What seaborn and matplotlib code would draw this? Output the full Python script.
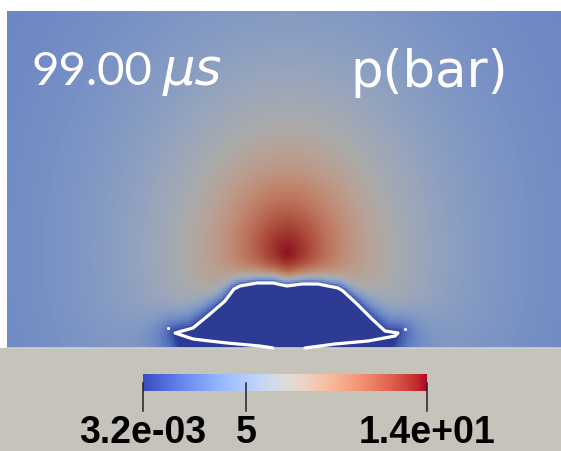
import numpy as np
import matplotlib
matplotlib.use("Agg")
import matplotlib.pyplot as plt
import seaborn as sns
from matplotlib.path import Path
from matplotlib.colors import ListedColormap
from matplotlib.patches import Rectangle

# ---------------- data ----------------
time_value = "99.00"
time_unit = "μs"
field_name = "p(bar)"

p_min = 0.0032          # lowest pressure (inside the bubble)
p_max = 13.8            # peak pressure
p_far = 2.2             # far-field pressure
peak_x = 287.0          # location of pressure peak (domain units)
peak_y = 257.0
peak_r0 = 80.0          # decay radius of the pressure pulse
peak_exp = 1.5
stretch_up = 1.3        # slower decay above the peak
halo_top = 8.0          # decay length of the low-pressure halo (bubble top)
halo_bot = 20.0         # decay length of the low-pressure halo (near wall)

# bubble interface (white contour), domain units (y downward)
bubble_x = [273, 260, 227, 193, 175, 193, 210, 225, 234, 240, 257, 273, 287,
            302, 318, 338, 343, 357, 372, 385, 398, 395, 368, 335, 305]
bubble_y = [349, 347, 344, 340, 334, 329, 315, 302, 290, 287, 284, 284, 287,
            285, 285, 289, 292, 305, 320, 332, 334, 337, 342, 345, 349]
# low-pressure (vapour) region: upper interface closed along the wall
vapour_x = [175, 193, 210, 225, 234, 240, 257, 273, 287, 302, 318, 338, 343,
            357, 372, 385, 398, 392, 180]
vapour_y = [334, 329, 315, 302, 290, 287, 284, 284, 287, 285, 285, 289, 292,
            305, 320, 332, 334, 349, 349]
droplet_x = [168, 405]
droplet_y = [329, 330]

cbar_ticks = [0.0032, 5.0, 13.8]
cbar_tick_labels = ["3.2e-03", "5", "1.4e+01"]

# ---------------- field ----------------
X0, X1, Y0, Y1 = 7.0, 561.0, 12.0, 349.0
nx, ny = 277, 169
xs = X0 + (np.arange(nx) + 0.5) * (X1 - X0) / nx
ys = Y0 + (np.arange(ny) + 0.5) * (Y1 - Y0) / ny
X, Y = np.meshgrid(xs, ys)

dx = X - peak_x
dy = np.where(Y < peak_y, (Y - peak_y) / stretch_up, Y - peak_y)
r = np.hypot(dx, dy)
base = p_far + (p_max - p_far) / (1.0 + (r / peak_r0) ** peak_exp)

poly = np.column_stack([vapour_x, vapour_y]).astype(float)
closed = np.vstack([poly, poly[:1]])
inside = Path(closed).contains_points(np.column_stack([X.ravel(), Y.ravel()])).reshape(X.shape)

# distance to the vapour boundary
pts = []
for a, b in zip(closed[:-1], closed[1:]):
    n = max(2, int(np.hypot(*(b - a))))
    t = np.linspace(0, 1, n, endpoint=False)[:, None]
    pts.append(a + t * (b - a))
pts = np.vstack(pts)
d = np.full(X.shape, np.inf)
for px, py in pts:
    d = np.minimum(d, np.hypot(X - px, Y - py))

lam = halo_top + (halo_bot - halo_top) * np.clip((Y - 285.0) / 60.0, 0, 1)
p = p_min + (base - p_min) * (1.0 - np.exp(-d / lam))
p[inside] = p_min

# ---------------- figure ----------------
W, H = 561, 452
fig = plt.figure(figsize=(W / 100, H / 100), dpi=100)
fig.patch.set_facecolor("white")

shade = 0.77
cw = plt.get_cmap("coolwarm")(np.linspace(0, 1, 256))[:, :3] * shade
shaded = ListedColormap(cw)

ax = fig.add_axes([X0 / W, (H - Y1) / H, (X1 - X0) / W, (Y1 - Y0) / H])
sns.heatmap(p, ax=ax, cmap=shaded, vmin=p_min, vmax=p_max, cbar=False,
            xticklabels=False, yticklabels=False, linewidths=0)
ax.set_axis_off()

ov = fig.add_axes([0, 0, 1, 1])
ov.set_xlim(0, W)
ov.set_ylim(H, 0)
ov.set_axis_off()
ov.patch.set_alpha(0)

floor = (197 / 255, 195 / 255, 186 / 255)
ov.add_patch(Rectangle((0, Y1), W, H - Y1, facecolor=floor, edgecolor="none"))
ov.plot([X0, X1], [Y1, Y1], color=(0.80, 0.81, 0.83), lw=1.2)

ov.plot(bubble_x, bubble_y, color="white", lw=2.3,
        solid_capstyle="round", solid_joinstyle="round")
ov.plot(droplet_x, droplet_y, "o", color="white", ms=2.2, mec="none")

ov.text(32, 85, time_value, color="white", fontsize=34, family=["Lato", "DejaVu Sans"])
ov.text(163, 85, time_unit, color="white", fontsize=37, style="italic",
        family=["DejaVu Sans"])
ov.text(508, 87, field_name, color="white", fontsize=37, ha="right",
        family=["DejaVu Sans"])

# colorbar
cx0, cx1, cy0, cy1 = 143.0, 427.0, 375.0, 392.0
cax = fig.add_axes([cx0 / W, (H - cy1) / H, (cx1 - cx0) / W, (cy1 - cy0) / H])
grad = np.linspace(p_min, p_max, 512)[None, :]
cax.imshow(grad, cmap="coolwarm", vmin=p_min, vmax=p_max, aspect="auto",
           extent=[p_min, p_max, 0, 1], interpolation="bilinear")
cax.set_xlim(p_min, p_max)
cax.set_ylim(0, 1)
cax.set_axis_off()
tick_bot = -(412 - cy1) / (cy1 - cy0)
label_base = -(443 - cy1) / (cy1 - cy0)
for v, lab in zip(cbar_ticks, cbar_tick_labels):
    cax.plot([v, v], [0.5, tick_bot], color="#222222", lw=1.1, clip_on=False)
    cax.text(v, label_base, lab, ha="center", va="baseline", fontsize=27,
             fontweight="bold", color="black", family=["Liberation Sans", "DejaVu Sans"],
             clip_on=False)

fig.savefig("out.png", dpi=100)
